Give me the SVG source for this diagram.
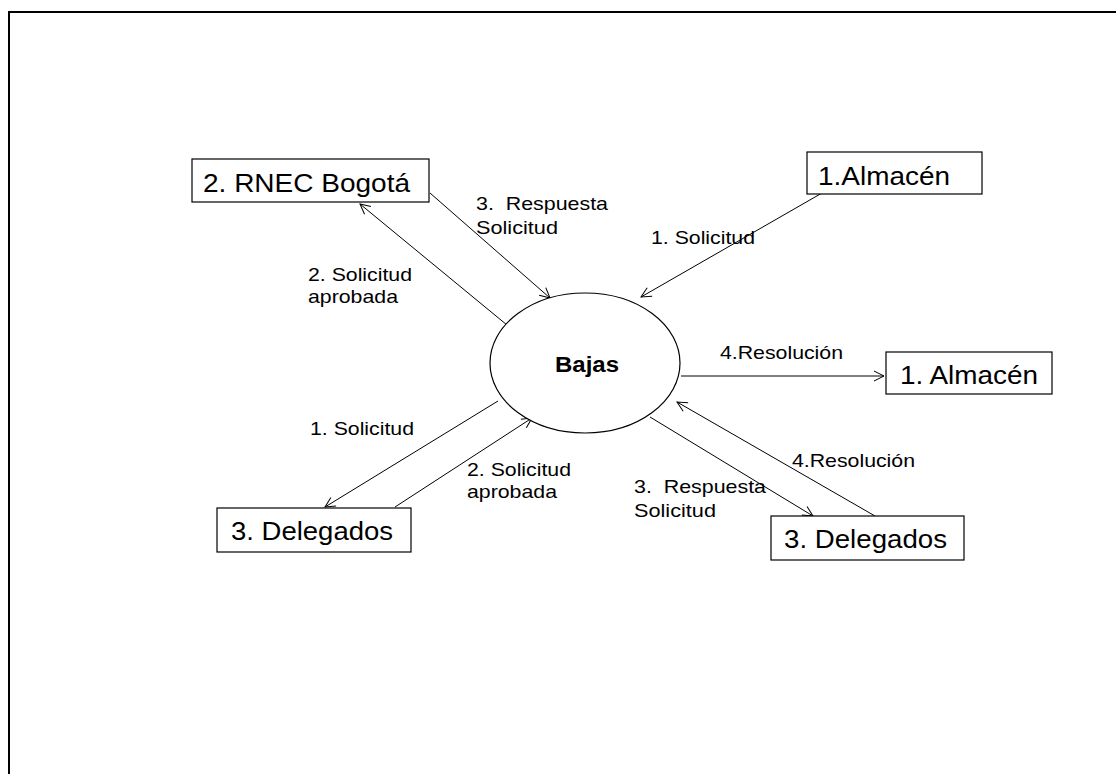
<svg xmlns="http://www.w3.org/2000/svg" width="1116" height="774" viewBox="0 0 1116 774">
  <style>
    .frame { fill: none; stroke: #000; stroke-width: 2; }
    .box { fill: #fff; stroke: #000; stroke-width: 1.2; }
    .proc { fill: #fff; stroke: #000; stroke-width: 1.2; }
    .flow { fill: none; stroke: #000; stroke-width: 1; marker-end: url(#arrow); }
    .big { font-family: "Liberation Sans", Arial, sans-serif; font-size: 26px; fill: #000; }
    .lbl { font-family: "Liberation Sans", Arial, sans-serif; font-size: 19px; fill: #000; }
    .title { font-family: "Liberation Sans", Arial, sans-serif; font-size: 22px; font-weight: bold; fill: #000; }
  </style>
  <defs>
    <marker id="arrow" markerUnits="userSpaceOnUse" markerWidth="14" markerHeight="14" refX="11" refY="7" orient="auto">
      <path d="M1,2 L11,7 L1,12" fill="none" stroke="#000" stroke-width="1"/>
    </marker>
  </defs>

  <rect width="1116" height="774" fill="#fff"/>
  <!-- page frame: top and left edges only -->
  <path class="frame" d="M9,774 L9,12 L1116,12"/>

  <!-- data flows -->
  <g id="connectors">
    <line class="flow" x1="430" y1="193" x2="550" y2="298"/>
    <line class="flow" x1="507" y1="325" x2="360" y2="204"/>
    <line class="flow" x1="822" y1="193" x2="641" y2="297"/>
    <line class="flow" x1="681" y1="376" x2="884" y2="376"/>
    <line class="flow" x1="875" y1="516" x2="677" y2="402"/>
    <line class="flow" x1="650" y1="417" x2="813" y2="516"/>
    <line class="flow" x1="498" y1="401" x2="325" y2="507"/>
    <line class="flow" x1="395" y1="507" x2="532" y2="418"/>
  </g>

  <g id="labels">
    <text class="lbl" x="476" y="210" textLength="132" lengthAdjust="spacingAndGlyphs" xml:space="preserve">3.  Respuesta</text>
    <text class="lbl" x="476" y="234" textLength="82" lengthAdjust="spacingAndGlyphs">Solicitud</text>
    <text class="lbl" x="308" y="281" textLength="104" lengthAdjust="spacingAndGlyphs">2. Solicitud</text>
    <text class="lbl" x="308" y="303" textLength="90" lengthAdjust="spacingAndGlyphs">aprobada</text>
    <text class="lbl" x="651" y="244" textLength="104" lengthAdjust="spacingAndGlyphs">1. Solicitud</text>
    <text class="lbl" x="720" y="359" textLength="123" lengthAdjust="spacingAndGlyphs">4.Resolución</text>
    <text class="lbl" x="310" y="435" textLength="104" lengthAdjust="spacingAndGlyphs">1. Solicitud</text>
    <text class="lbl" x="467" y="476" textLength="104" lengthAdjust="spacingAndGlyphs">2. Solicitud</text>
    <text class="lbl" x="467" y="498" textLength="90" lengthAdjust="spacingAndGlyphs">aprobada</text>
    <text class="lbl" x="634" y="493" textLength="132" lengthAdjust="spacingAndGlyphs" xml:space="preserve">3.  Respuesta</text>
    <text class="lbl" x="634" y="517" textLength="82" lengthAdjust="spacingAndGlyphs">Solicitud</text>
    <text class="lbl" x="792" y="467" textLength="123" lengthAdjust="spacingAndGlyphs">4.Resolución</text>
  </g>

  <g id="bajas">
    <ellipse class="proc" cx="585" cy="363" rx="95" ry="70"/>
    <text class="title" x="555" y="372" textLength="64" lengthAdjust="spacingAndGlyphs">Bajas</text>
  </g>

  <g id="rnec-bogota">
    <rect class="box" x="192" y="159" width="237" height="43"/>
    <text class="big" x="203" y="192" textLength="207" lengthAdjust="spacingAndGlyphs">2. RNEC Bogotá</text>
  </g>

  <g id="almacen-origen">
    <rect class="box" x="807" y="152" width="175" height="42"/>
    <text class="big" x="818" y="185" textLength="132" lengthAdjust="spacingAndGlyphs">1.Almacén</text>
  </g>

  <g id="almacen-destino">
    <rect class="box" x="886" y="352" width="166" height="42"/>
    <text class="big" x="900" y="384" textLength="138" lengthAdjust="spacingAndGlyphs">1. Almacén</text>
  </g>

  <g id="delegados-izq">
    <rect class="box" x="217" y="508" width="194" height="44"/>
    <text class="big" x="231" y="540" textLength="162" lengthAdjust="spacingAndGlyphs">3. Delegados</text>
  </g>

  <g id="delegados-der">
    <rect class="box" x="771" y="516" width="193" height="44"/>
    <text class="big" x="784" y="548" textLength="163" lengthAdjust="spacingAndGlyphs">3. Delegados</text>
  </g>
</svg>
